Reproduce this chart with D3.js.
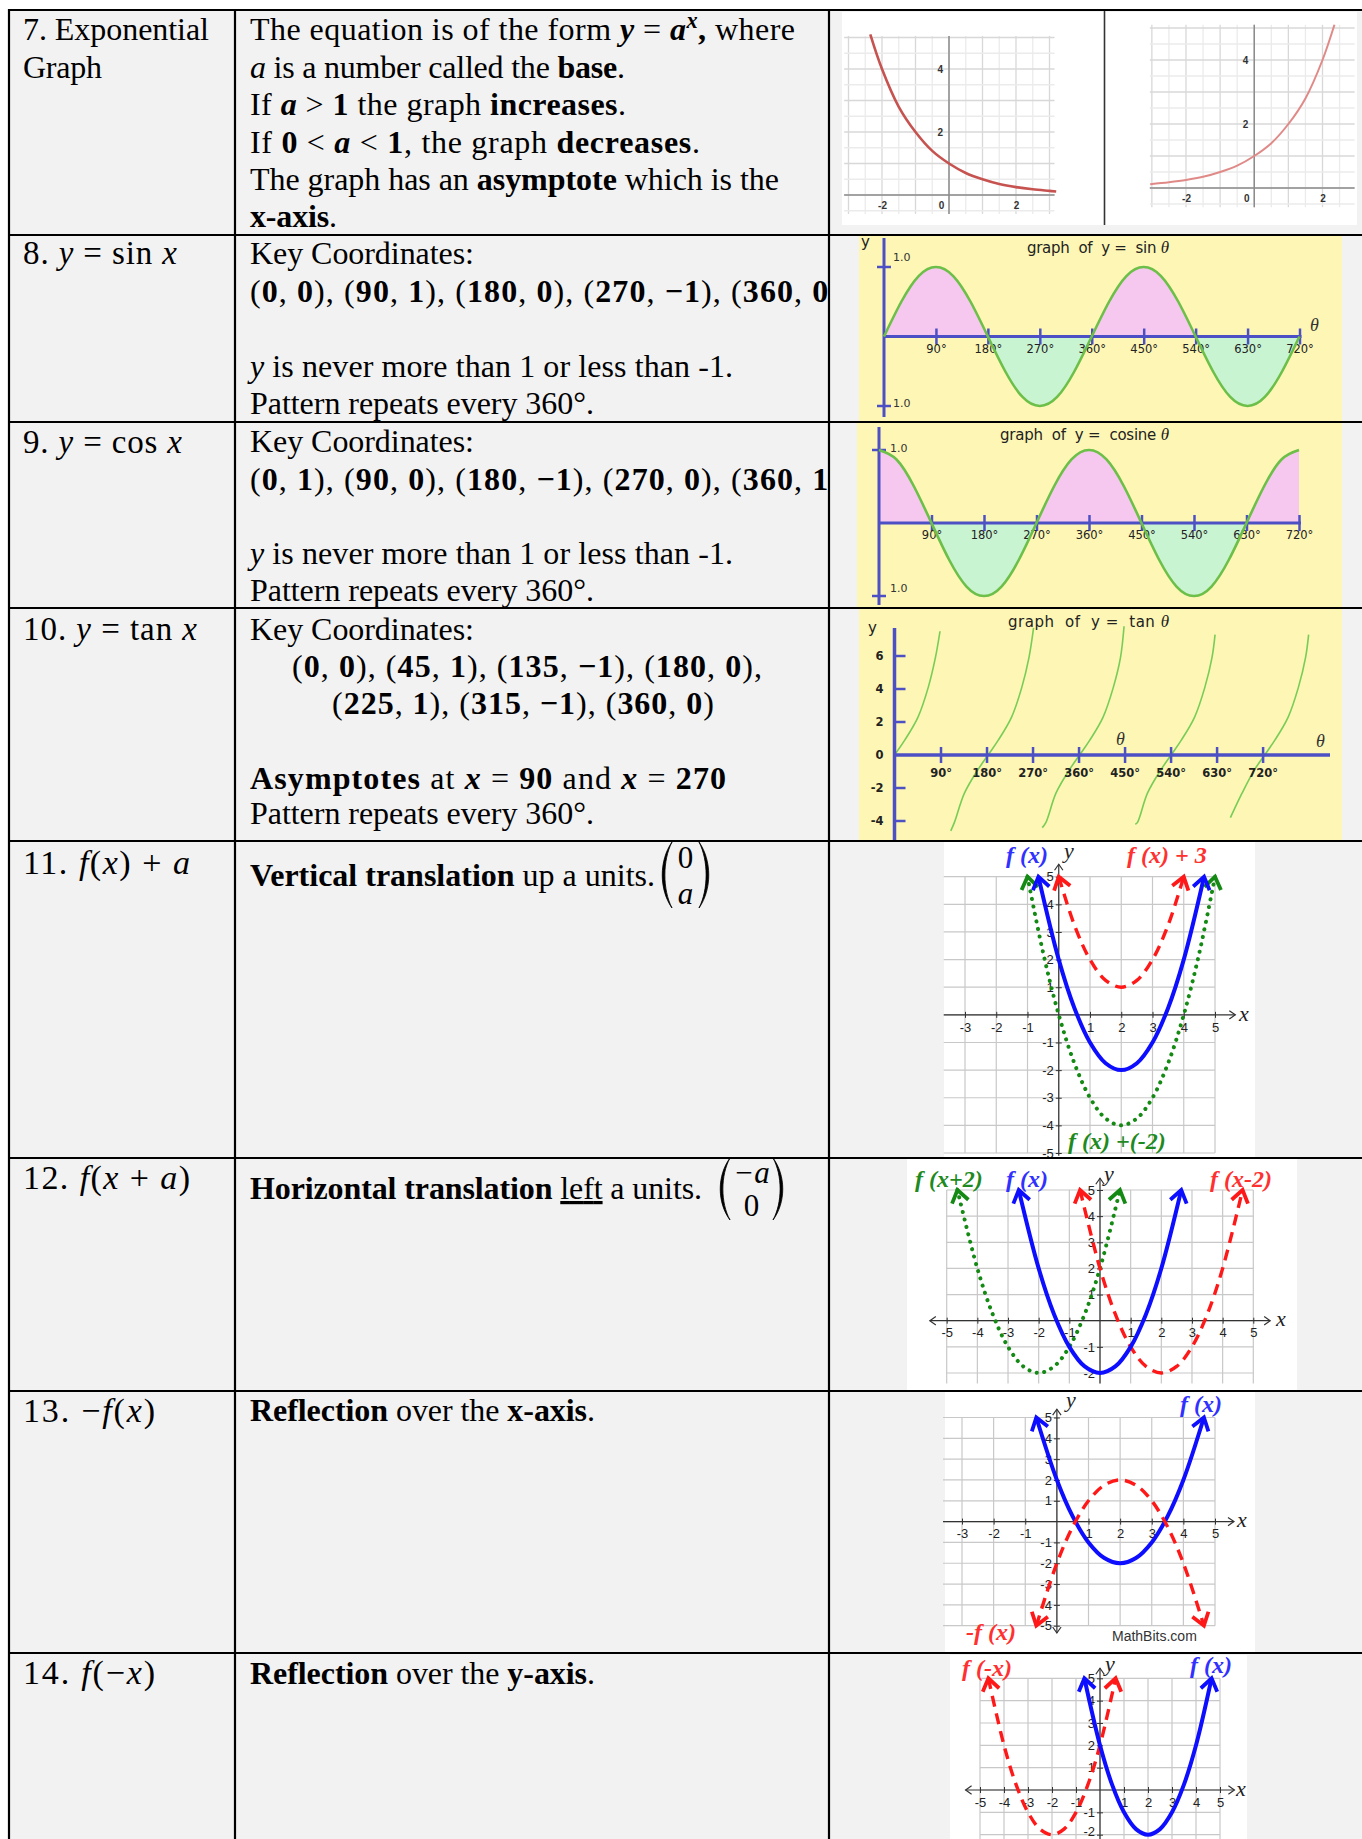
<!DOCTYPE html>
<html>
<head>
<meta charset="utf-8">
<script src="https://cdnjs.cloudflare.com/ajax/libs/d3/7.8.5/d3.min.js"></script>
<style>
  body { margin: 0; background: #fff; }
  text { white-space: pre; }
</style>
</head>
<body>
<script>
// ---- values ----

// row 7: y = a^x, decreasing (0<a<1) and increasing (a>1)
const expDown = [[-2.35, 5.1], [-2, 4], [-1.5, 2.8], [-1, 2], [-0.5, 1.4], [0, 1], [0.5, 0.7], [1, 0.5], [1.5, 0.35], [2, 0.25], [2.5, 0.18], [3, 0.13], [3.2, 0.11]]
const expUp = [[-3.05, 0.12], [-2.5, 0.18], [-2, 0.25], [-1.5, 0.35], [-1, 0.5], [-0.5, 0.7], [0, 1], [0.5, 1.4], [1, 2], [1.5, 2.8], [2, 4], [2.35, 5.1]]
const expTicksX = [-2, 0, 2]
const expTicksY = [2, 4]

// rows 8, 9: sine and cosine every 30 degrees
const trigDeg = [0, 30, 60, 90, 120, 150, 180, 210, 240, 270, 300, 330, 360, 390, 420, 450, 480, 510, 540, 570, 600, 630, 660, 690, 720]
const sinY = [0, 0.5, 0.87, 1, 0.87, 0.5, 0, -0.5, -0.87, -1, -0.87, -0.5, 0, 0.5, 0.87, 1, 0.87, 0.5, 0, -0.5, -0.87, -1, -0.87, -0.5, 0]
const cosY = [1, 0.87, 0.5, 0, -0.5, -0.87, -1, -0.87, -0.5, 0, 0.5, 0.87, 1, 0.87, 0.5, 0, -0.5, -0.87, -1, -0.87, -0.5, 0, 0.5, 0.87, 1]
const degTicks = [90, 180, 270, 360, 450, 540, 630, 720]

// row 10: tangent branches as drawn (degrees, y)
const tanBranches = [
  [[0, 0], [20, 0.9], [46, 2.3], [66, 4.1], [80, 5.9], [89, 7.5]],
  [[110, -4.6], [117, -4.1], [137, -2.3], [163, -0.9], [183, 0], [203, 0.9], [229, 2.3], [249, 4.1], [263, 5.9], [272, 7.7]],
  [[289, -4.4], [296, -4.1], [316, -2.3], [342, -0.9], [362, 0], [382, 0.9], [408, 2.3], [428, 4.1], [442, 5.9], [449, 7.8]],
  [[471, -4.2], [475, -4.1], [495, -2.3], [521, -0.9], [541, 0], [561, 0.9], [587, 2.3], [607, 4.1], [621, 5.9], [627, 7.3]],
  [[657, -3.8], [680, -2.3], [704, -0.9], [724, 0], [744, 0.9], [770, 2.3], [790, 4.1], [804, 5.9], [810, 7.3]]
]
const tanTicksY = [-4, -2, 2, 4, 6]
const tanLabelsY = [-4, -2, 0, 2, 4, 6]

// key coordinates in the text column
const sinKey = [[0, 0], [90, 1], [180, 0], [270, -1], [360, 0]]
const cosKey = [[0, 1], [90, 0], [180, -1], [270, 0], [360, 1]]
const tanKey = [[0, 0], [45, 1], [135, -1], [180, 0], [225, 1], [315, -1], [360, 0]]
const tanAsym = [90, 270]
const period = 360

// rows 11-14: parabola f(x) and its transformations
const fx = [[-0.65, 5], [0, 2], [0.5, 0.25], [1, -1], [1.5, -1.75], [2, -2], [2.5, -1.75], [3, -1], [3.5, 0.25], [4, 2], [4.65, 5]]
const fxUp3 = [[0, 5], [0.5, 3.25], [1, 2], [1.5, 1.25], [2, 1], [2.5, 1.25], [3, 2], [3.5, 3.25], [4, 5]]
const fxDown2 = [[-1, 5], [-0.5, 2.25], [0, 0], [0.5, -1.75], [1, -3], [1.5, -3.75], [2, -4], [2.5, -3.75], [3, -3], [3.5, -1.75], [4, 0], [4.5, 2.25], [5, 5]]
const gx = [[-2.65, 5], [-2, 2], [-1.5, 0.25], [-1, -1], [-0.5, -1.75], [0, -2], [0.5, -1.75], [1, -1], [1.5, 0.25], [2, 2], [2.65, 5]]
const gxLeft2 = [[-4.65, 5], [-4, 2], [-3.5, 0.25], [-3, -1], [-2.5, -1.75], [-2, -2], [-1.5, -1.75], [-1, -1], [-0.5, 0.25], [0, 2], [0.65, 5]]
const gxRight2 = [[-0.65, 5], [0, 2], [0.5, 0.25], [1, -1], [1.5, -1.75], [2, -2], [2.5, -1.75], [3, -1], [3.5, 0.25], [4, 2], [4.65, 5]]
const negFx = [[-0.65, -5], [0, -2], [0.5, -0.25], [1, 1], [1.5, 1.75], [2, 2], [2.5, 1.75], [3, 1], [3.5, -0.25], [4, -2], [4.65, -5]]
const fNegX = [[-4.65, 5], [-4, 2], [-3.5, 0.25], [-3, -1], [-2.5, -1.75], [-2, -2], [-1.5, -1.75], [-1, -1], [-0.5, 0.25], [0, 2], [0.65, 5]]

// ---- page ----
W = 1362
H = 1839
serif = "'Liberation Serif', 'Times New Roman', serif"
sans = "'Liberation Sans', Arial, sans-serif"
comic = "'DejaVu Sans', sans-serif"
yellow = "#fdf6b4"
pink = "#f7c8ef"
mint = "#c9f4d2"
waveGreen = "#6cbf48"
axisBlue = "#4c50c4"
blue = "#0d0dff"
red = "#ff1818"
green = "#148a14"

colX = [9, 235, 829, W]
rowY = [10, 235, 422, 608, 841, 1158, 1391, 1653, H]

svg = d3.select("body").append("svg")
    .attr("width", W)
    .attr("height", H)
    .style("display", "block")
defs = svg.append("defs")

svg.append("rect").attr("width", W).attr("height", H).attr("fill", "#fff")
svg.append("rect")
    .attr("x", colX[0]).attr("y", rowY[0])
    .attr("width", W - colX[0]).attr("height", H - rowY[0])
    .attr("fill", "#f2f2f2")

function fmt(v) { return v < 0 ? "\u2212" + (-v) : String(v) }

function coordParts(list) {
    let parts = []
    list.forEach((p, i) => {
        if (i > 0) parts.push(", ")
        parts.push("(", [fmt(p[0]), "b"], ", ", [fmt(p[1]), "b"], ")")
    })
    return parts
}

function richText(g, x, y, parts, size, width) {
    let t = g.append("text")
        .attr("x", x).attr("y", y)
        .attr("font-family", serif)
        .attr("font-size", size)
        .attr("fill", "#000")
    let lift = 0
    parts.forEach(p => {
        let str = typeof p === "string" ? p : p[0]
        let st = typeof p === "string" ? "" : p[1]
        let s = t.append("tspan").text(str)
        if (st.includes("b")) s.attr("font-weight", "bold")
        if (st.includes("i")) s.attr("font-style", "italic")
        if (st.includes("u")) s.attr("text-decoration", "underline")
        if (st.includes("^")) {
            s.attr("font-size", size * 0.7).attr("dy", -size * 0.38)
            lift = size * 0.38
        } else if (lift) {
            s.attr("dy", lift)
            lift = 0
        }
    })
    if (width) t.attr("textLength", width).attr("lengthAdjust", "spacing")
    return t
}

// ---- column 1 : names ----
rowTitles = [
    { y: 40, w: 186, size: 32, parts: ["7. Exponential"] },
    { y: 78, w: 79, size: 32, parts: ["Graph"] },
    { y: 264, w: 154, size: 33, parts: ["8. ", ["y", "i"], " = sin ", ["x", "i"]] },
    { y: 453, w: 159, size: 33, parts: ["9. ", ["y", "i"], " = cos ", ["x", "i"]] },
    { y: 640, w: 174, size: 33, parts: ["10. ", ["y", "i"], " = tan ", ["x", "i"]] },
    { y: 874, w: 167, size: 34, parts: ["11. ", ["f", "i"], "(", ["x", "i"], ") + ", ["a", "i"]] },
    { y: 1189, w: 167, size: 34, parts: ["12. ", ["f", "i"], "(", ["x", "i"], " + ", ["a", "i"], ")"] },
    { y: 1422, w: 132, size: 34, parts: ["13. \u2212", ["f", "i"], "(", ["x", "i"], ")"] },
    { y: 1684, w: 132, size: 34, parts: ["14. ", ["f", "i"], "(\u2212", ["x", "i"], ")"] }
]
col1 = svg.append("g")
rowTitles.forEach(r => richText(col1, 23, r.y, r.parts, r.size, r.w))

// ---- column 2 : notes (clipped at the column edge) ----
defs.append("clipPath").attr("id", "col2clip")
    .append("rect").attr("x", colX[1]).attr("y", 0).attr("width", colX[2] - colX[1]).attr("height", H)
col2 = svg.append("g").attr("clip-path", "url(#col2clip)")

notes = [
    { x: 250, y: 40, w: 545, parts: ["The equation is of the form ", ["y", "bi"], " = ", ["a", "bi"], ["x", "bi^"], [",", "b"], " where"] },
    { x: 250, y: 78, w: 375, parts: [["a", "i"], " is a number called the ", ["base", "b"], "."] },
    { x: 250, y: 115, w: 376, parts: ["If ", ["a", "bi"], " > ", ["1", "b"], " the graph ", ["increases", "b"], "."] },
    { x: 250, y: 153, w: 450, parts: ["If ", ["0", "b"], " < ", ["a", "bi"], " < ", ["1", "b"], ", the graph ", ["decreases", "b"], "."] },
    { x: 250, y: 190, w: 529, parts: ["The graph has an ", ["asymptote", "b"], " which is the"] },
    { x: 250, y: 227, w: 87, parts: [["x-axis", "b"], "."] },

    { x: 250, y: 264, w: 224, parts: ["Key Coordinates:"] },
    { x: 250, y: 302, w: 590, parts: coordParts(sinKey) },
    { x: 250, y: 377, w: 483, parts: [["y", "i"], " is never more than 1 or less than -1."] },
    { x: 250, y: 414, w: 344, parts: ["Pattern repeats every " + period + "\u00b0."] },

    { x: 250, y: 452, w: 224, parts: ["Key Coordinates:"] },
    { x: 250, y: 490, w: 590, parts: coordParts(cosKey) },
    { x: 250, y: 564, w: 483, parts: [["y", "i"], " is never more than 1 or less than -1."] },
    { x: 250, y: 601, w: 344, parts: ["Pattern repeats every " + period + "\u00b0."] },

    { x: 250, y: 640, w: 224, parts: ["Key Coordinates:"] },
    { x: 292, y: 677, w: 470, parts: coordParts(tanKey.slice(0, 4)).concat([","]) },
    { x: 332, y: 714, w: 382, parts: coordParts(tanKey.slice(4)) },
    { x: 250, y: 789, w: 476, parts: [["Asymptotes", "b"], " at ", ["x", "bi"], " = ", [String(tanAsym[0]), "b"], " and ", ["x", "bi"], " = ", [String(tanAsym[1]), "b"]] },
    { x: 250, y: 824, w: 344, parts: ["Pattern repeats every " + period + "\u00b0."] },

    { x: 250, y: 886, w: 405, parts: [["Vertical translation", "b"], " up a units."] },
    { x: 250, y: 1199, w: 452, parts: [["Horizontal translation", "b"], " ", ["left", "u"], " a units."] },
    { x: 250, y: 1421, w: 345, parts: [["Reflection", "b"], " over the ", ["x-axis", "b"], "."] },
    { x: 250, y: 1684, w: 345, parts: [["Reflection", "b"], " over the ", ["y-axis", "b"], "."] }
]
notes.forEach(n => richText(col2, n.x, n.y, n.parts, 32, n.w))

// column vectors drawn with two curved brackets
function columnVector(g, left, right, top, bottom, upper, lower) {
    let h = bottom - top
    ;[[left, 1], [right, -1]].forEach(s => {
        let e = s[0] + 13 * s[1]
        let m = s[0]
        g.append("path")
            .attr("d", `M${e},${top} C${m},${top + h * 0.28} ${m},${bottom - h * 0.28} ${e},${bottom}` +
                `C${m + 3.5 * s[1]},${bottom - h * 0.28} ${m + 3.5 * s[1]},${top + h * 0.28} ${e},${top}Z`)
            .attr("fill", "#000").attr("stroke", "#000").attr("stroke-width", 0.8)
    })
    let cx = (left + right) / 2
    upper.y = top + h * 0.4
    lower.y = bottom - 4
    ;[upper, lower].forEach(e => {
        g.append("text").attr("x", cx).attr("y", e.y)
            .attr("text-anchor", "middle")
            .attr("font-family", serif).attr("font-size", 31)
            .attr("font-style", e.italic ? "italic" : "normal")
            .text(e.text)
    })
}
columnVector(col2, 659, 712, 842, 908, { text: "0" }, { text: "a", italic: true })
columnVector(col2, 717, 786, 1158, 1220, { text: "\u2212a", italic: true }, { text: "0" })

// ---- row 7 : exponential graphs ----
function expPanel(cfg) {
    let g = svg.append("g")
    g.append("rect")
        .attr("x", cfg.box[0]).attr("y", cfg.box[1])
        .attr("width", cfg.box[2] - cfg.box[0]).attr("height", cfg.box[3] - cfg.box[1])
        .attr("fill", "#fff")
    let x = d3.scaleLinear().domain([-2, 2]).range(cfg.xr)
    let y = d3.scaleLinear().domain([0, 4]).range(cfg.yr)
    let gxs = d3.range(cfg.gx[0], cfg.gx[1] + 0.01, 0.5)
    let gys = d3.range(cfg.gy[0], cfg.gy[1] + 0.01, 0.5)
    g.selectAll(null).data(gxs).enter().append("line")
        .attr("x1", d => x(d)).attr("x2", d => x(d))
        .attr("y1", y(cfg.ey[0])).attr("y2", y(cfg.ey[1]))
        .attr("stroke", d => d % 1 === 0 ? "#d8d8d8" : "#ebebeb").attr("stroke-width", 1.3)
    g.selectAll(null).data(gys).enter().append("line")
        .attr("y1", d => y(d)).attr("y2", d => y(d))
        .attr("x1", x(cfg.ex[0])).attr("x2", x(cfg.ex[1]))
        .attr("stroke", d => d % 1 === 0 ? "#d8d8d8" : "#ebebeb").attr("stroke-width", 1.3)
    g.append("line")
        .attr("x1", x(cfg.ex[0])).attr("x2", x(cfg.ex[1]))
        .attr("y1", y(0)).attr("y2", y(0))
        .attr("stroke", "#8c8c8c").attr("stroke-width", 1.5)
    g.append("line")
        .attr("x1", x(0)).attr("x2", x(0))
        .attr("y1", y(cfg.ey[0])).attr("y2", y(cfg.ey[1]))
        .attr("stroke", "#8c8c8c").attr("stroke-width", 1.5)
    let xa = g.append("g").attr("transform", `translate(0,${y(0)})`)
        .call(d3.axisBottom(x).tickValues(expTicksX).tickSize(0).tickPadding(7).tickFormat(d => String(d)))
    let ya = g.append("g").attr("transform", `translate(${x(0)},0)`)
        .call(d3.axisLeft(y).tickValues(expTicksY).tickSize(0).tickPadding(6).tickFormat(d => String(d)))
    ;[xa, ya].forEach(a => {
        a.select(".domain").remove()
        a.selectAll("text").attr("font-family", sans).attr("font-size", 10)
            .attr("font-weight", "bold").attr("fill", "#333")
    })
    // the origin label sits left of the y axis
    xa.selectAll("text").filter(d => d === 0).attr("x", -8)
    g.append("path").datum(cfg.data)
        .attr("d", d3.line().x(d => x(d[0])).y(d => y(d[1])).curve(d3.curveCatmullRom))
        .attr("fill", "none").attr("stroke", cfg.color).attr("stroke-width", cfg.width)
}
expPanel({ box: [842, 12, 1103, 225], xr: [882, 1016], yr: [195, 69], gx: [-3, 3], gy: [-0.5, 5],
    ex: [-3.13, 3.15], ey: [-0.6, 5.05], data: expDown, color: "#c65350", width: 2.6 })
expPanel({ box: [1106, 12, 1357, 225], xr: [1186, 1322.5], yr: [188, 60], gx: [-3, 2.5], gy: [-0.5, 5],
    ex: [-3.06, 2.94], ey: [-0.6, 5.1], data: expUp, color: "#e08a88", width: 2 })
svg.append("line").attr("x1", 1104.5).attr("x2", 1104.5).attr("y1", 10).attr("y2", 225)
    .attr("stroke", "#333").attr("stroke-width", 1.5)

// ---- rows 8, 9 : sine and cosine ----
function wavePanel(cfg) {
    let g = svg.append("g")
    let bw = cfg.box[2] - cfg.box[0]
    g.append("rect")
        .attr("x", cfg.box[0]).attr("y", cfg.box[1])
        .attr("width", bw).attr("height", cfg.box[3] - cfg.box[1])
        .attr("fill", yellow)
    let x = d3.scaleLinear().domain([0, 720]).range(cfg.xr)
    let y = d3.scaleLinear().domain([-1, 1]).range(cfg.yr)
    let pts = trigDeg.map((d, i) => [d, cfg.vals[i]])
    defs.append("clipPath").attr("id", cfg.id + "up").append("rect")
        .attr("x", cfg.box[0]).attr("y", cfg.box[1]).attr("width", bw).attr("height", y(0) - cfg.box[1])
    defs.append("clipPath").attr("id", cfg.id + "dn").append("rect")
        .attr("x", cfg.box[0]).attr("y", y(0)).attr("width", bw).attr("height", cfg.box[3] - y(0))
    let area = d3.area().x(d => x(d[0])).y0(y(0)).y1(d => y(d[1])).curve(d3.curveNatural)
    g.append("path").datum(pts).attr("d", area).attr("fill", pink).attr("clip-path", `url(#${cfg.id}up)`)
    g.append("path").datum(pts).attr("d", area).attr("fill", mint).attr("clip-path", `url(#${cfg.id}dn)`)

    // y axis with +-1 ticks
    g.append("line")
        .attr("x1", x(0)).attr("x2", x(0)).attr("y1", cfg.yAxis[0]).attr("y2", cfg.yAxis[1])
        .attr("stroke", axisBlue).attr("stroke-width", 3)
    g.selectAll(null).data([1, -1]).enter().append("line")
        .attr("x1", x(0) - 7).attr("x2", x(0) + 7)
        .attr("y1", d => y(d)).attr("y2", d => y(d))
        .attr("stroke", axisBlue).attr("stroke-width", 2.5)
    g.selectAll(null).data(cfg.oneLabels).enter().append("text")
        .attr("x", cfg.oneX).attr("y", d => d)
        .attr("font-family", comic).attr("font-size", 11).attr("fill", "#333")
        .text("1.0")

    // x axis in degrees
    let xa = g.append("g").attr("transform", `translate(0,${y(0)})`)
        .call(d3.axisBottom(x).tickValues(degTicks).tickSize(8).tickPadding(0).tickFormat(d => d + "\u00b0"))
    xa.select(".domain").remove()
    xa.selectAll(".tick line").attr("y1", -8).attr("stroke", axisBlue).attr("stroke-width", 2.5)
    xa.selectAll("text").attr("font-family", comic).attr("font-size", 11.5).attr("fill", "#222")
    g.append("line")
        .attr("x1", x(0)).attr("x2", x(720) + 2).attr("y1", y(0)).attr("y2", y(0))
        .attr("stroke", axisBlue).attr("stroke-width", 3)

    g.append("path").datum(pts)
        .attr("d", d3.line().x(d => x(d[0])).y(d => y(d[1])).curve(d3.curveNatural))
        .attr("fill", "none").attr("stroke", waveGreen).attr("stroke-width", 2.6)

    let title = g.append("text").attr("x", cfg.title[0]).attr("y", cfg.title[1])
        .attr("font-family", comic).attr("font-size", 15).attr("fill", "#222")
        .attr("textLength", cfg.title[2]).attr("lengthAdjust", "spacing")
    title.append("tspan").text(cfg.titleText)
    title.append("tspan").text("\u03b8").attr("font-family", serif).attr("font-style", "italic").attr("font-size", 17)
    return g
}
sinG = wavePanel({ id: "sin", box: [859, 235, 1342, 422], xr: [884, 1299.5], yr: [406, 267], vals: sinY,
    yAxis: [238, 417], oneX: 893, oneLabels: [261, 407], title: [1027, 253, 142], titleText: "graph  of  y =  sin " })
sinG.append("text").attr("x", 861).attr("y", 247).attr("font-family", comic).attr("font-size", 15).attr("fill", "#222").text("y")
sinG.append("text").attr("x", 1310).attr("y", 331).attr("font-family", serif).attr("font-style", "italic")
    .attr("font-size", 18).attr("fill", "#333").text("\u03b8")
wavePanel({ id: "cos", box: [857, 422, 1342, 608], xr: [879, 1299], yr: [596, 450], vals: cosY,
    yAxis: [427, 605], oneX: 890, oneLabels: [452, 592], title: [1000, 440, 169], titleText: "graph  of  y =  cosine " })

// ---- row 10 : tangent ----
tg = svg.append("g")
tg.append("rect").attr("x", 859).attr("y", 608).attr("width", 483).attr("height", 232).attr("fill", yellow)
tx = d3.scaleLinear().domain([0, 720]).range([894.5, 1262.6])
ty = d3.scaleLinear().domain([0, 6]).range([755, 656])
tanBranches.forEach(b => {
    tg.append("path").datum(b)
        .attr("d", d3.line().x(d => tx(d[0])).y(d => ty(d[1])).curve(d3.curveCatmullRom))
        .attr("fill", "none").attr("stroke", "#78cc58").attr("stroke-width", 1.6)
})
tg.append("line").attr("x1", tx(0)).attr("x2", tx(0)).attr("y1", 628).attr("y2", 840)
    .attr("stroke", axisBlue).attr("stroke-width", 3.5)
tg.selectAll(null).data(tanTicksY).enter().append("line")
    .attr("x1", tx(0)).attr("x2", tx(0) + 11)
    .attr("y1", d => ty(d)).attr("y2", d => ty(d))
    .attr("stroke", axisBlue).attr("stroke-width", 2.5)
tya = tg.append("g").attr("transform", `translate(${tx(0)},0)`)
    .call(d3.axisLeft(ty).tickValues(tanLabelsY).tickSize(0).tickPadding(11).tickFormat(d => String(d)))
tya.select(".domain").remove()
tya.selectAll("text").attr("font-family", comic).attr("font-size", 11.5).attr("font-weight", "bold").attr("fill", "#222")
txa = tg.append("g").attr("transform", `translate(0,${ty(0)})`)
    .call(d3.axisBottom(tx).tickValues(degTicks).tickSize(8).tickPadding(6).tickFormat(d => d + "\u00b0"))
txa.select(".domain").remove()
txa.selectAll(".tick line").attr("y1", -8).attr("stroke", axisBlue).attr("stroke-width", 2.5)
txa.selectAll("text").attr("font-family", comic).attr("font-size", 11.5).attr("font-weight", "bold").attr("fill", "#222")
tg.append("line").attr("x1", tx(0)).attr("x2", 1330).attr("y1", ty(0)).attr("y2", ty(0))
    .attr("stroke", axisBlue).attr("stroke-width", 3.5)
tTitle = tg.append("text").attr("x", 1008).attr("y", 627)
    .attr("font-family", comic).attr("font-size", 15).attr("fill", "#222")
    .attr("textLength", 161).attr("lengthAdjust", "spacing")
tTitle.append("tspan").text("graph  of  y =  tan ")
tTitle.append("tspan").text("\u03b8").attr("font-family", serif).attr("font-style", "italic").attr("font-size", 17)
tg.append("text").attr("x", 868).attr("y", 633).attr("font-family", comic).attr("font-size", 15).attr("fill", "#222").text("y")
;[[1116, 745], [1316, 747]].forEach(p => {
    tg.append("text").attr("x", p[0]).attr("y", p[1]).attr("font-family", serif).attr("font-style", "italic")
        .attr("font-size", 18).attr("fill", "#333").text("\u03b8")
})

// ---- rows 11-14 : graph-paper panels ----
function chevron(id, color, size, width) {
    defs.append("marker").attr("id", id)
        .attr("markerUnits", "userSpaceOnUse")
        .attr("viewBox", `${-size - 4} ${-size - 4} ${2 * size + 8} ${2 * size + 8}`)
        .attr("markerWidth", 2 * size + 8).attr("markerHeight", 2 * size + 8)
        .attr("refX", 0).attr("refY", 0)
        .attr("orient", "auto-start-reverse")
        .style("overflow", "visible")
        .append("path")
        .attr("d", `M${-size},${-size * 0.7}L0,0L${-size},${size * 0.7}`)
        .attr("fill", "none").attr("stroke", color).attr("stroke-width", width)
        .attr("stroke-linejoin", "miter")
}
chevron("arBlue", blue, 12, 3.8)
chevron("arRed", red, 12, 3.8)
chevron("arGreen", green, 12, 3.8)
chevron("arAxis", "#333", 6, 1.2)

curveStyles = {
    blue: { stroke: blue, width: 4, dash: null, marker: "arBlue" },
    red: { stroke: red, width: 3.4, dash: "11,7", marker: "arRed" },
    green: { stroke: green, width: 4, dash: "0.1,7.5", marker: "arGreen" }
}

function gridPanel(cfg) {
    let g = svg.append("g")
    g.append("rect")
        .attr("x", cfg.box[0]).attr("y", cfg.box[1])
        .attr("width", cfg.box[2] - cfg.box[0]).attr("height", cfg.box[3] - cfg.box[1])
        .attr("fill", "#fff")
    let x = d3.scaleLinear().domain(cfg.xd).range(cfg.xr)
    let y = d3.scaleLinear().domain(cfg.yd).range(cfg.yr)
    let vx = d3.range(Math.ceil(cfg.gx[0]), cfg.gx[1] + 0.01, 1)
    let vy = d3.range(Math.ceil(cfg.gy[0]), cfg.gy[1] + 0.01, 1)
    g.selectAll(null).data(vx).enter().append("line")
        .attr("x1", d => x(d)).attr("x2", d => x(d))
        .attr("y1", y(cfg.gy[0])).attr("y2", y(cfg.gy[1]))
        .attr("stroke", "#c8c8c8").attr("stroke-width", 1.2)
    g.selectAll(null).data(vy).enter().append("line")
        .attr("y1", d => y(d)).attr("y2", d => y(d))
        .attr("x1", x(cfg.gx[0])).attr("x2", x(cfg.gx[1]))
        .attr("stroke", "#c8c8c8").attr("stroke-width", 1.2)

    // axes with arrow tips
    let xl = g.append("line")
        .attr("x1", x(cfg.ax[0])).attr("x2", x(cfg.ax[1])).attr("y1", y(0)).attr("y2", y(0))
        .attr("stroke", "#333").attr("stroke-width", 1.2)
        .attr("marker-end", "url(#arAxis)")
    if (cfg.bothX) xl.attr("marker-start", "url(#arAxis)")
    let yl = g.append("line")
        .attr("x1", x(0)).attr("x2", x(0)).attr("y1", y(cfg.ay[0])).attr("y2", y(cfg.ay[1]))
        .attr("stroke", "#333").attr("stroke-width", 1.2)
        .attr("marker-end", "url(#arAxis)")
    if (cfg.bothY) yl.attr("marker-start", "url(#arAxis)")

    let xa = g.append("g").attr("transform", `translate(0,${y(0)})`)
        .call(d3.axisBottom(x).tickValues(cfg.xt).tickSize(3).tickPadding(4.5).tickFormat(d => String(d)))
    let ya = g.append("g").attr("transform", `translate(${x(0)},0)`)
        .call(d3.axisLeft(y).tickValues(cfg.yt).tickSize(3).tickPadding(2).tickFormat(d => String(d)))
    xa.selectAll(".tick line").attr("y1", -3)
    ya.selectAll(".tick line").attr("x1", 3)
    ;[xa, ya].forEach(a => {
        a.select(".domain").remove()
        a.selectAll(".tick line").attr("stroke", "#333")
        a.selectAll("text").attr("font-family", sans).attr("font-size", 13).attr("fill", "#222")
    })
    if (cfg.lowLabelDy) ya.selectAll("text").filter(d => d === cfg.yt[0]).attr("dy", cfg.lowLabelDy)

    cfg.curves.forEach(c => {
        let st = curveStyles[c.style]
        let p = g.append("path").datum(c.data)
            .attr("d", d3.line().x(d => x(d[0])).y(d => y(d[1])).curve(d3.curveCatmullRom))
            .attr("fill", "none").attr("stroke", st.stroke).attr("stroke-width", st.width)
            .attr("stroke-linecap", st.dash === "0.1,7.5" ? "round" : "butt")
            .attr("marker-start", `url(#${st.marker})`).attr("marker-end", `url(#${st.marker})`)
        if (st.dash) p.attr("stroke-dasharray", st.dash)
    })

    cfg.labels.forEach(l => {
        g.append("text").attr("x", l.x).attr("y", l.y)
            .attr("font-family", l.font || serif)
            .attr("font-size", l.size || 24)
            .attr("font-style", l.font ? "normal" : "italic")
            .attr("font-weight", l.bold === false ? "normal" : "bold")
            .attr("fill", l.color)
            .text(l.text)
    })
}

gridPanel({
    box: [944, 842, 1255, 1157], xd: [-3, 5], xr: [965, 1215], yd: [-5, 5], yr: [1153, 876.7],
    gx: [-3.68, 5], gy: [-5, 5], ax: [-3.68, 5.65], ay: [-5.1, 5.45],
    xt: [-3, -2, -1, 1, 2, 3, 4, 5], yt: [-5, -4, -3, -2, -1, 1, 2, 3, 4, 5],
    curves: [
        { data: fxDown2, style: "green" },
        { data: fxUp3, style: "red" },
        { data: fx, style: "blue" }
    ],
    labels: [
        { x: 1006, y: 863, text: "f (x)", color: "#3030ff" },
        { x: 1064, y: 858, text: "y", color: "#222", bold: false, size: 22 },
        { x: 1127, y: 863, text: "f (x) + 3", color: "#ff3030" },
        { x: 1068, y: 1149, text: "f (x) +(-2)", color: "#1f8a1f" },
        { x: 1239, y: 1021, text: "x", color: "#222", bold: false, size: 22 }
    ]
})

gridPanel({
    box: [907, 1159, 1297, 1391], xd: [-5, 5], xr: [946.7, 1253.3], yd: [0, 5], yr: [1320.7, 1190],
    gx: [-5, 5], gy: [-2.4, 5], ax: [-5.55, 5.55], ay: [-2.4, 5.45], bothX: true,
    xt: [-5, -4, -3, -2, -1, 1, 2, 3, 4, 5], yt: [-2, -1, 1, 2, 3, 4, 5],
    curves: [
        { data: gxLeft2, style: "green" },
        { data: gxRight2, style: "red" },
        { data: gx, style: "blue" }
    ],
    labels: [
        { x: 915, y: 1187, text: "f (x+2)", color: "#1f8a1f" },
        { x: 1006, y: 1187, text: "f (x)", color: "#3030ff" },
        { x: 1104, y: 1181, text: "y", color: "#222", bold: false, size: 22 },
        { x: 1210, y: 1187, text: "f (x-2)", color: "#ff3030" },
        { x: 1276, y: 1326, text: "x", color: "#222", bold: false, size: 22 }
    ]
})

gridPanel({
    box: [945, 1392, 1255, 1652], xd: [-3, 5], xr: [962, 1215], yd: [-5, 5], yr: [1625.7, 1417.5],
    gx: [-3.6, 5], gy: [-5, 5], ax: [-3.6, 5.6], ay: [-5.35, 5.4], bothY: true,
    xt: [-3, -2, -1, 1, 2, 3, 4, 5], yt: [-5, -4, -3, -2, -1, 1, 2, 3, 4, 5],
    curves: [
        { data: fx, style: "blue" },
        { data: negFx, style: "red" }
    ],
    labels: [
        { x: 1066, y: 1407, text: "y", color: "#222", bold: false, size: 22 },
        { x: 1180, y: 1412, text: "f (x)", color: "#3030ff" },
        { x: 966, y: 1640, text: "-f (x)", color: "#ff3030" },
        { x: 1237, y: 1527, text: "x", color: "#222", bold: false, size: 22 },
        { x: 1112, y: 1641, text: "MathBits.com", color: "#333", font: sans, size: 14, bold: false }
    ]
})

gridPanel({
    box: [950, 1655, 1247, H], xd: [-5, 5], xr: [980, 1220], yd: [0, 5], yr: [1790, 1678.3],
    gx: [-5, 5], gy: [-2.3, 5], ax: [-5.6, 5.6], ay: [-2.3, 5.45], bothX: true, lowLabelDy: "0.1em",
    xt: [-5, -4, -3, -2, -1, 1, 2, 3, 4, 5], yt: [-2, -1, 1, 2, 3, 4, 5],
    curves: [
        { data: fNegX, style: "red" },
        { data: fx, style: "blue" }
    ],
    labels: [
        { x: 962, y: 1676, text: "f (-x)", color: "#ff3030" },
        { x: 1105, y: 1671, text: "y", color: "#222", bold: false, size: 22 },
        { x: 1190, y: 1673, text: "f (x)", color: "#3030ff" },
        { x: 1236, y: 1796, text: "x", color: "#222", bold: false, size: 22 }
    ]
})

// ---- table rules on top ----
rules = svg.append("g")
rules.selectAll(null).data(rowY.slice(0, -1)).enter().append("line")
    .attr("x1", colX[0] - 1).attr("x2", W)
    .attr("y1", d => d).attr("y2", d => d)
    .attr("stroke", "#000").attr("stroke-width", 2.2)
rules.selectAll(null).data(colX.slice(0, -1)).enter().append("line")
    .attr("x1", d => d).attr("x2", d => d)
    .attr("y1", rowY[0] - 1).attr("y2", H)
    .attr("stroke", "#000").attr("stroke-width", 2.2)
</script>
</body>
</html>
